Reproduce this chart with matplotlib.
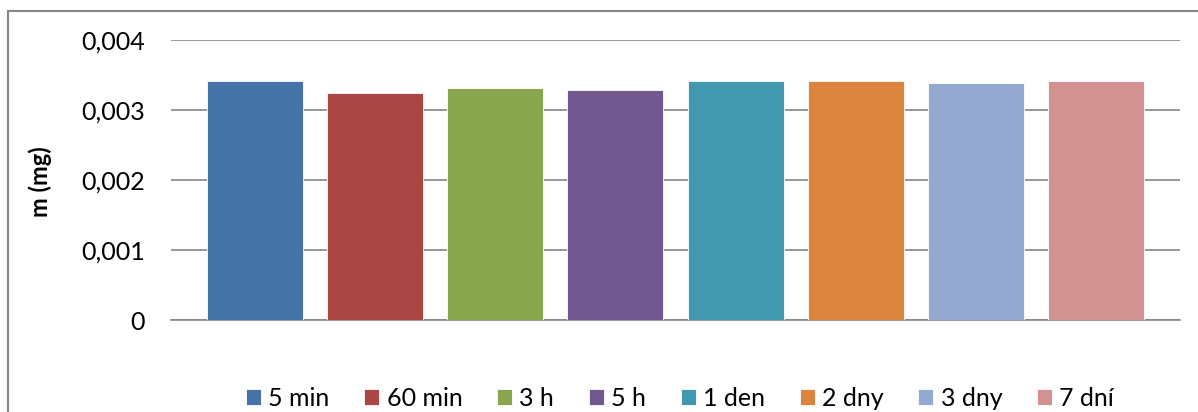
import matplotlib.pyplot as plt
from matplotlib.lines import Line2D
from matplotlib.ticker import FuncFormatter

plt.rcParams['font.family'] = ['Lato', 'DejaVu Sans']

# Measured mass per exposure time
labels = ["5 min", "60 min", "3 h", "5 h", "1 den", "2 dny", "3 dny", "7 dní"]
mass_mg = [0.00342, 0.00325, 0.00332, 0.00329, 0.00342, 0.00342, 0.00339, 0.00342]
colors = ["#4572A7", "#AA4643", "#89A54E", "#71588F",
          "#4198AF", "#DB843D", "#93A9CF", "#D19392"]
yticks = [0, 0.001, 0.002, 0.003, 0.004]

W, H = 1198, 412
fig = plt.figure(figsize=(W / 100, H / 100), dpi=100)
ax = fig.add_axes([171 / W, 92 / H, (1180 - 171) / W, 280 / H])

grid_c = "#868686"
for i, (lab, v, c) in enumerate(zip(labels, mass_mg, colors)):
    ax.bar(i, v, width=0.8, color=c, edgecolor="white", linewidth=0.6,
           label=lab, zorder=3)

ax.set_xlim(-0.7, 7.7)
ax.set_ylim(0, 0.004)
ax.set_yticks(yticks)
ax.yaxis.set_major_formatter(FuncFormatter(
    lambda v, _: "0" if v == 0 else f"{v:.3f}".replace(".", ",")))
ax.set_xticks([])
ax.tick_params(axis="y", length=0, pad=19, labelsize=18)
ax.grid(axis="y", color=grid_c, linewidth=1.2, zorder=0)
for s in ["left", "right", "top"]:
    ax.spines[s].set_visible(False)
ax.spines["bottom"].set_color(grid_c)
ax.spines["bottom"].set_linewidth(1.2)

fig.text(40 / W, 1 - 182 / H, "m (mg)", rotation=90, ha="center", va="center",
         fontsize=17, fontweight="bold")

leg = ax.legend(loc="center", bbox_to_anchor=(680 / W, 1 - 398 / H),
                bbox_transform=fig.transFigure, ncol=8, frameon=False,
                fontsize=18, handlelength=0.6, handleheight=0.6,
                handletextpad=0.3, columnspacing=1.38, borderpad=0)

# outer chart frame (left and top edges)
fig.add_artist(Line2D([8 / W, 8 / W], [0, 1 - 11 / H], color=grid_c,
                      linewidth=1.5, transform=fig.transFigure))
fig.add_artist(Line2D([8 / W, 1], [1 - 11 / H, 1 - 11 / H], color=grid_c,
                      linewidth=1.5, transform=fig.transFigure))

fig.savefig("out.png", dpi=100)
